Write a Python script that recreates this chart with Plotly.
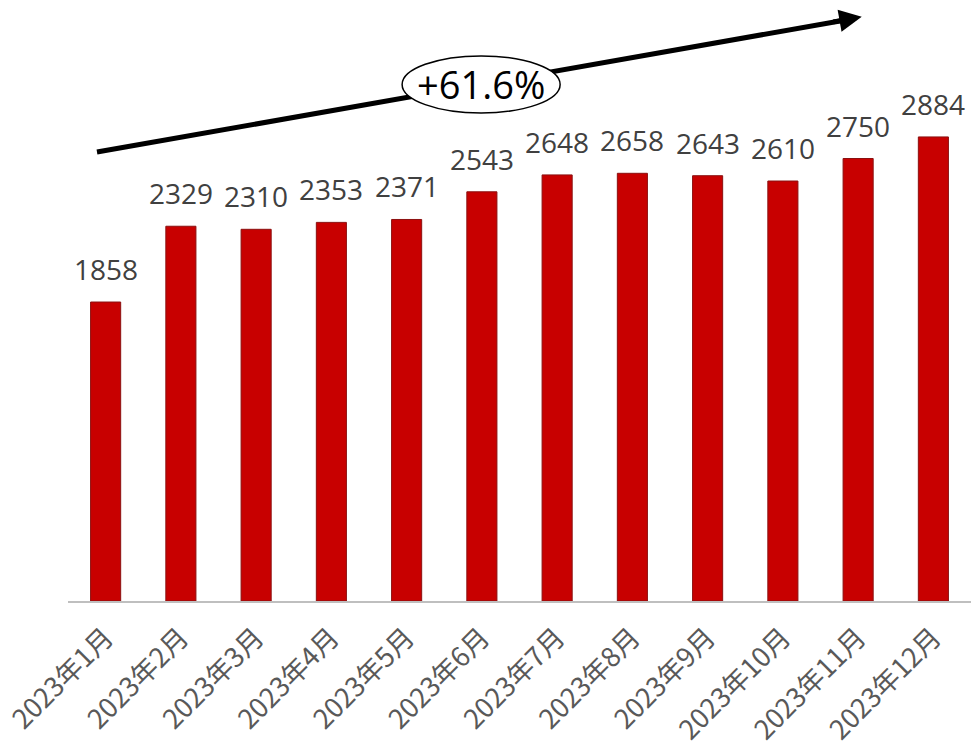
import plotly.graph_objects as go

months = ["2023年1月", "2023年2月", "2023年3月", "2023年4月", "2023年5月", "2023年6月",
          "2023年7月", "2023年8月", "2023年9月", "2023年10月", "2023年11月", "2023年12月"]
values = [1858, 2329, 2310, 2353, 2371, 2543, 2648, 2658, 2643, 2610, 2750, 2884]
growth_label = "+61.6%"

fig = go.Figure()
fig.add_trace(go.Bar(
    x=months, y=values, width=0.4,
    marker=dict(color="#C80000", line=dict(color="#8B1010", width=1)),
))

for m, v in zip(months, values):
    fig.add_annotation(x=m, y=v, text=str(v), showarrow=False, yanchor="bottom",
                       yshift=12, font=dict(family="Open Sans", size=28, color="#404040"))

# trend arrow: shaft as shape, head as short annotation arrow
fig.add_shape(type="line", xref="paper", yref="paper", x0=0.0321, y0=0.747, x1=0.866, y1=0.968,
              line=dict(color="black", width=5), layer="above")
fig.add_annotation(x=0.879, y=0.972, xref="paper", yref="paper", ax=-30, ay=5.3,
                   axref="pixel", ayref="pixel", showarrow=True, arrowhead=2,
                   arrowsize=0.9, arrowwidth=5, arrowcolor="black", text="", standoff=0)
fig.add_shape(type="circle", xref="paper", yref="paper", x0=0.370, x1=0.545, y0=0.812, y1=0.907,
              fillcolor="white", line=dict(color="black", width=1.5), layer="above")
fig.add_annotation(x=0.4575, y=0.8595, xref="paper", yref="paper", text=growth_label,
                   xanchor="center", yanchor="middle",
                   showarrow=False, font=dict(family="Open Sans", size=38, color="black"))

fig.update_layout(
    width=971, height=747, margin=dict(l=68, r=0, t=0, b=146),
    plot_bgcolor="white", paper_bgcolor="white", showlegend=False,
    xaxis=dict(tickangle=-45, showline=True, linecolor="#BFBFBF", linewidth=2,
               tickfont=dict(family="Noto Sans CJK SC", size=27, color="#595959"),
               ticks="", ticklabelstandoff=8, range=[-0.5, 11.5]),
    yaxis=dict(visible=False, range=[0, 3735]),
)
fig.write_html("out.html")
